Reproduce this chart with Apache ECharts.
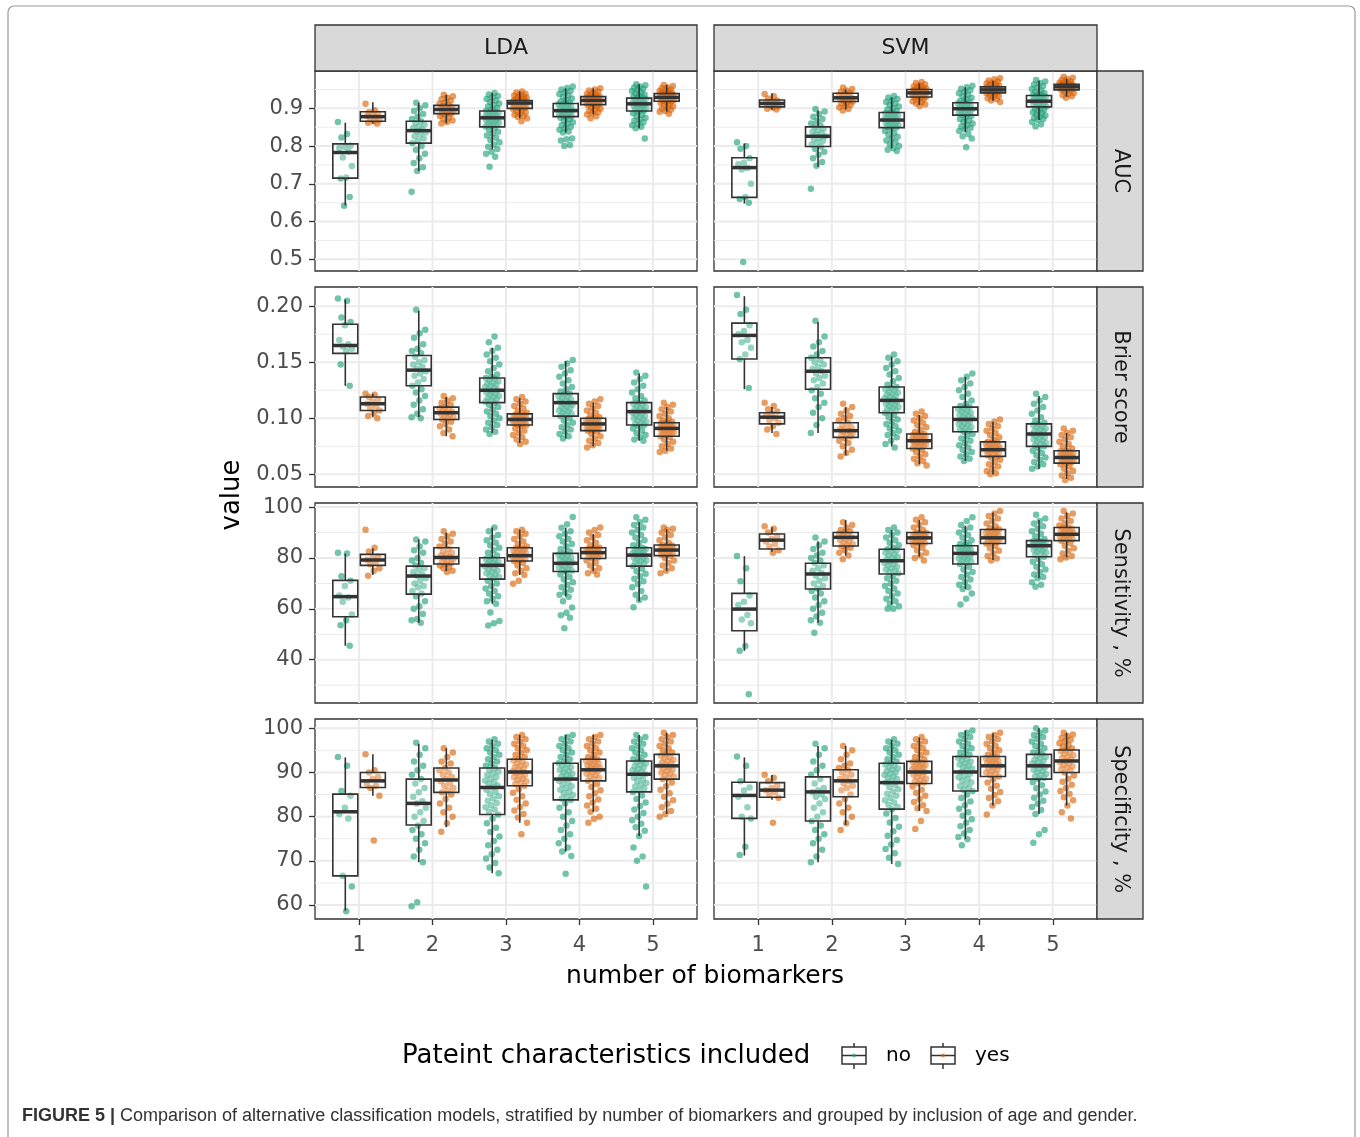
<!DOCTYPE html>
<html>
<head>
<meta charset="utf-8">
<script src="https://cdn.jsdelivr.net/npm/echarts@6/dist/echarts.min.js"></script>
<style>
  html, body { margin: 0; padding: 0; background: #fff; }
  #chart { width: 1360px; height: 1137px; }
</style>
</head>
<body>
<div id="chart"></div>
<script>
// x categories (number of biomarkers) and facet labels
const categories = [1, 2, 3, 4, 5]
const models = ['LDA', 'SVM']
const metrics = ['AUC', 'Brier score', 'Sensitivity , %', 'Specificity , %']

// tick labels per row
const aucTicks = [0.5, 0.6, 0.7, 0.8, 0.9]
const aucMinor = [0.55, 0.65, 0.75, 0.85, 0.95]
const brierTicks = [0.05, 0.10, 0.15, 0.20]
const brierMinor = [0.075, 0.125, 0.175]
const sensTicks = [40, 60, 80, 100]
const sensMinor = [30, 50, 70, 90]
const specTicks = [60, 70, 80, 90, 100]
const specMinor = [65, 75, 85, 95]

// boxes: [min, q1, median, q3, max] for 1..5 biomarkers
// points: one list per number of biomarkers
// ---- LDA / AUC
const ldaAucNoBox = [[0.643, 0.715, 0.783, 0.806, 0.862], [0.734, 0.808, 0.841, 0.866, 0.915], [0.791, 0.851, 0.875, 0.893, 0.941], [0.836, 0.878, 0.894, 0.913, 0.953], [0.847, 0.893, 0.912, 0.927, 0.964]]
const ldaAucYesBox = [[0.860, 0.866, 0.878, 0.891, 0.916], [0.860, 0.886, 0.897, 0.908, 0.936], [0.874, 0.900, 0.914, 0.921, 0.945], [0.884, 0.910, 0.921, 0.931, 0.953], [0.891, 0.919, 0.929, 0.939, 0.962]]
const ldaAucNo = [
  [0.864, 0.832, 0.823, 0.801, 0.798, 0.795, 0.786, 0.770, 0.747, 0.717, 0.714, 0.665, 0.642],
  [0.915, 0.908, 0.900, 0.893, 0.885, 0.878, 0.872, 0.866, 0.861, 0.857, 0.852, 0.848, 0.844, 0.840, 0.836, 0.831, 0.826, 0.820, 0.814, 0.808, 0.800, 0.790, 0.780, 0.768, 0.755, 0.744, 0.734, 0.679],
  [0.941, 0.937, 0.933, 0.929, 0.925, 0.921, 0.917, 0.913, 0.909, 0.905, 0.901, 0.897, 0.893, 0.891, 0.889, 0.887, 0.885, 0.883, 0.881, 0.879, 0.877, 0.875, 0.874, 0.872, 0.870, 0.868, 0.866, 0.864, 0.862, 0.860, 0.858, 0.856, 0.854, 0.852, 0.848, 0.843, 0.838, 0.833, 0.828, 0.822, 0.816, 0.810, 0.804, 0.798, 0.792, 0.785, 0.780, 0.772, 0.745],
  [0.958, 0.954, 0.950, 0.946, 0.942, 0.938, 0.934, 0.930, 0.926, 0.922, 0.918, 0.915, 0.913, 0.911, 0.909, 0.907, 0.905, 0.903, 0.901, 0.899, 0.897, 0.895, 0.894, 0.892, 0.890, 0.888, 0.886, 0.884, 0.882, 0.880, 0.878, 0.875, 0.871, 0.867, 0.863, 0.859, 0.855, 0.851, 0.847, 0.843, 0.839, 0.836, 0.820, 0.818, 0.815, 0.803, 0.800],
  [0.964, 0.961, 0.958, 0.955, 0.952, 0.949, 0.946, 0.943, 0.940, 0.937, 0.934, 0.931, 0.929, 0.927, 0.925, 0.923, 0.921, 0.919, 0.917, 0.915, 0.913, 0.912, 0.910, 0.908, 0.906, 0.904, 0.902, 0.900, 0.898, 0.896, 0.894, 0.891, 0.887, 0.883, 0.879, 0.875, 0.871, 0.867, 0.863, 0.859, 0.855, 0.851, 0.847, 0.820]
]
const ldaAucYes = [
  [0.912, 0.895, 0.890, 0.886, 0.883, 0.880, 0.877, 0.874, 0.870, 0.866, 0.862, 0.860],
  [0.936, 0.932, 0.928, 0.924, 0.920, 0.916, 0.912, 0.909, 0.906, 0.903, 0.900, 0.898, 0.896, 0.894, 0.892, 0.890, 0.888, 0.886, 0.883, 0.880, 0.876, 0.872, 0.868, 0.864, 0.860],
  [0.945, 0.942, 0.939, 0.936, 0.934, 0.932, 0.930, 0.928, 0.926, 0.924, 0.923, 0.921, 0.920, 0.919, 0.918, 0.917, 0.916, 0.915, 0.914, 0.913, 0.912, 0.911, 0.910, 0.909, 0.908, 0.907, 0.906, 0.905, 0.904, 0.903, 0.902, 0.901, 0.900, 0.898, 0.895, 0.892, 0.889, 0.886, 0.883, 0.880, 0.877, 0.874, 0.866],
  [0.953, 0.950, 0.947, 0.944, 0.941, 0.938, 0.936, 0.934, 0.932, 0.931, 0.930, 0.929, 0.928, 0.927, 0.926, 0.925, 0.924, 0.923, 0.922, 0.921, 0.920, 0.919, 0.918, 0.917, 0.916, 0.915, 0.914, 0.913, 0.912, 0.911, 0.910, 0.908, 0.905, 0.902, 0.899, 0.896, 0.893, 0.890, 0.887, 0.884, 0.879, 0.874],
  [0.962, 0.959, 0.956, 0.953, 0.950, 0.948, 0.946, 0.944, 0.942, 0.940, 0.939, 0.938, 0.937, 0.936, 0.935, 0.934, 0.933, 0.932, 0.931, 0.930, 0.929, 0.928, 0.927, 0.926, 0.925, 0.924, 0.923, 0.922, 0.921, 0.920, 0.919, 0.917, 0.914, 0.911, 0.908, 0.905, 0.902, 0.899, 0.896, 0.893, 0.891, 0.886]
]
// ---- SVM / AUC
const svmAucNoBox = [[0.648, 0.664, 0.743, 0.769, 0.807], [0.745, 0.799, 0.826, 0.851, 0.894], [0.794, 0.849, 0.869, 0.889, 0.929], [0.838, 0.882, 0.899, 0.915, 0.956], [0.869, 0.904, 0.919, 0.934, 0.973]]
const svmAucYesBox = [[0.896, 0.904, 0.913, 0.922, 0.940], [0.897, 0.918, 0.928, 0.940, 0.950], [0.909, 0.930, 0.941, 0.950, 0.966], [0.920, 0.941, 0.949, 0.957, 0.973], [0.931, 0.949, 0.957, 0.964, 0.979]]
const svmAucNo = [
  [0.810, 0.800, 0.793, 0.768, 0.756, 0.752, 0.742, 0.738, 0.700, 0.665, 0.660, 0.650, 0.493],
  [0.898, 0.892, 0.885, 0.878, 0.872, 0.866, 0.860, 0.855, 0.850, 0.846, 0.842, 0.838, 0.834, 0.830, 0.826, 0.822, 0.818, 0.814, 0.809, 0.804, 0.799, 0.792, 0.785, 0.777, 0.768, 0.758, 0.748, 0.687],
  [0.933, 0.929, 0.925, 0.921, 0.917, 0.913, 0.909, 0.905, 0.901, 0.897, 0.893, 0.889, 0.887, 0.885, 0.883, 0.881, 0.879, 0.877, 0.875, 0.873, 0.871, 0.869, 0.867, 0.865, 0.863, 0.861, 0.859, 0.857, 0.855, 0.853, 0.851, 0.849, 0.845, 0.840, 0.835, 0.830, 0.825, 0.820, 0.815, 0.810, 0.805, 0.800, 0.794, 0.790, 0.787],
  [0.960, 0.956, 0.952, 0.948, 0.944, 0.940, 0.936, 0.932, 0.928, 0.924, 0.920, 0.917, 0.915, 0.913, 0.911, 0.909, 0.907, 0.905, 0.903, 0.901, 0.899, 0.897, 0.895, 0.893, 0.891, 0.889, 0.887, 0.885, 0.883, 0.880, 0.876, 0.872, 0.868, 0.864, 0.860, 0.856, 0.852, 0.848, 0.844, 0.840, 0.832, 0.826, 0.820, 0.797],
  [0.975, 0.971, 0.967, 0.963, 0.959, 0.955, 0.951, 0.947, 0.944, 0.941, 0.938, 0.936, 0.934, 0.932, 0.930, 0.928, 0.926, 0.924, 0.922, 0.920, 0.919, 0.917, 0.915, 0.913, 0.911, 0.909, 0.907, 0.905, 0.902, 0.899, 0.896, 0.893, 0.890, 0.887, 0.884, 0.881, 0.878, 0.875, 0.872, 0.869, 0.864, 0.858, 0.852]
]
const svmAucYes = [
  [0.938, 0.932, 0.926, 0.921, 0.917, 0.914, 0.911, 0.908, 0.905, 0.902, 0.899, 0.897],
  [0.955, 0.951, 0.947, 0.944, 0.941, 0.938, 0.935, 0.932, 0.930, 0.928, 0.926, 0.924, 0.922, 0.920, 0.918, 0.915, 0.912, 0.909, 0.906, 0.902, 0.898, 0.894],
  [0.970, 0.967, 0.964, 0.961, 0.958, 0.956, 0.954, 0.952, 0.951, 0.950, 0.949, 0.948, 0.947, 0.946, 0.945, 0.944, 0.943, 0.942, 0.941, 0.940, 0.939, 0.938, 0.937, 0.936, 0.935, 0.934, 0.933, 0.932, 0.931, 0.930, 0.928, 0.925, 0.922, 0.919, 0.916, 0.913, 0.910, 0.906],
  [0.980, 0.977, 0.974, 0.971, 0.968, 0.966, 0.964, 0.962, 0.960, 0.958, 0.957, 0.956, 0.955, 0.954, 0.953, 0.952, 0.951, 0.950, 0.949, 0.948, 0.947, 0.946, 0.945, 0.944, 0.943, 0.942, 0.941, 0.939, 0.936, 0.933, 0.930, 0.927, 0.924, 0.921, 0.917],
  [0.984, 0.981, 0.978, 0.975, 0.972, 0.970, 0.968, 0.966, 0.965, 0.964, 0.963, 0.962, 0.961, 0.960, 0.959, 0.958, 0.957, 0.956, 0.955, 0.954, 0.953, 0.952, 0.951, 0.950, 0.949, 0.947, 0.944, 0.941, 0.938, 0.935, 0.932, 0.928]
]
// ---- LDA / Brier score
const ldaBrierNoBox = [[0.129, 0.158, 0.165, 0.184, 0.206], [0.101, 0.129, 0.143, 0.156, 0.196], [0.087, 0.114, 0.125, 0.136, 0.163], [0.082, 0.102, 0.114, 0.122, 0.151], [0.080, 0.094, 0.106, 0.114, 0.140]]
const ldaBrierYesBox = [[0.101, 0.107, 0.113, 0.119, 0.122], [0.084, 0.099, 0.105, 0.110, 0.119], [0.078, 0.094, 0.099, 0.104, 0.118], [0.075, 0.089, 0.095, 0.100, 0.114], [0.071, 0.084, 0.091, 0.096, 0.110]]
const ldaBrierNo = [
  [0.207, 0.205, 0.190, 0.186, 0.183, 0.170, 0.166, 0.164, 0.162, 0.160, 0.148, 0.129],
  [0.197, 0.179, 0.176, 0.172, 0.166, 0.162, 0.160, 0.158, 0.155, 0.152, 0.150, 0.148, 0.146, 0.144, 0.142, 0.140, 0.138, 0.135, 0.132, 0.129, 0.126, 0.123, 0.120, 0.116, 0.112, 0.108, 0.104, 0.101, 0.100],
  [0.173, 0.168, 0.163, 0.160, 0.157, 0.154, 0.151, 0.148, 0.145, 0.142, 0.139, 0.137, 0.136, 0.135, 0.134, 0.133, 0.132, 0.131, 0.130, 0.129, 0.128, 0.127, 0.126, 0.125, 0.124, 0.123, 0.122, 0.121, 0.120, 0.119, 0.118, 0.117, 0.116, 0.115, 0.114, 0.112, 0.110, 0.108, 0.106, 0.104, 0.102, 0.100, 0.098, 0.096, 0.094, 0.092, 0.090, 0.088, 0.086],
  [0.152, 0.149, 0.146, 0.143, 0.140, 0.137, 0.134, 0.131, 0.128, 0.126, 0.124, 0.122, 0.121, 0.120, 0.119, 0.118, 0.117, 0.116, 0.115, 0.114, 0.113, 0.112, 0.111, 0.110, 0.109, 0.108, 0.107, 0.106, 0.105, 0.104, 0.103, 0.102, 0.100, 0.098, 0.096, 0.094, 0.092, 0.090, 0.088, 0.086, 0.084, 0.082],
  [0.141, 0.138, 0.135, 0.132, 0.129, 0.126, 0.123, 0.120, 0.118, 0.116, 0.114, 0.113, 0.112, 0.111, 0.110, 0.109, 0.108, 0.107, 0.106, 0.105, 0.104, 0.103, 0.102, 0.101, 0.100, 0.099, 0.098, 0.097, 0.096, 0.095, 0.094, 0.093, 0.091, 0.089, 0.087, 0.085, 0.083, 0.081, 0.080]
]
const ldaBrierYes = [
  [0.122, 0.121, 0.119, 0.117, 0.115, 0.113, 0.111, 0.109, 0.107, 0.105, 0.102, 0.100],
  [0.120, 0.118, 0.116, 0.114, 0.112, 0.110, 0.109, 0.108, 0.107, 0.106, 0.105, 0.104, 0.103, 0.102, 0.101, 0.100, 0.099, 0.097, 0.095, 0.093, 0.090, 0.087, 0.084],
  [0.119, 0.117, 0.115, 0.113, 0.111, 0.109, 0.107, 0.105, 0.104, 0.1035, 0.103, 0.1025, 0.102, 0.1015, 0.101, 0.1005, 0.100, 0.0995, 0.099, 0.0985, 0.098, 0.0975, 0.097, 0.0965, 0.096, 0.0955, 0.095, 0.0945, 0.094, 0.093, 0.091, 0.089, 0.087, 0.085, 0.083, 0.081, 0.079, 0.077],
  [0.117, 0.115, 0.113, 0.111, 0.109, 0.107, 0.105, 0.103, 0.101, 0.100, 0.0995, 0.099, 0.0985, 0.098, 0.0975, 0.097, 0.0965, 0.096, 0.0955, 0.095, 0.0945, 0.094, 0.0935, 0.093, 0.0925, 0.092, 0.0915, 0.091, 0.0905, 0.090, 0.0895, 0.089, 0.088, 0.086, 0.084, 0.082, 0.080, 0.078, 0.076, 0.074],
  [0.114, 0.112, 0.110, 0.108, 0.106, 0.104, 0.102, 0.100, 0.098, 0.097, 0.096, 0.0955, 0.095, 0.0945, 0.094, 0.0935, 0.093, 0.0925, 0.092, 0.0915, 0.091, 0.0905, 0.090, 0.0895, 0.089, 0.0885, 0.088, 0.0875, 0.087, 0.0865, 0.086, 0.085, 0.084, 0.083, 0.081, 0.079, 0.077, 0.075, 0.073, 0.071, 0.070]
]
// ---- SVM / Brier score
const svmBrierNoBox = [[0.126, 0.153, 0.174, 0.185, 0.209], [0.087, 0.126, 0.142, 0.154, 0.186], [0.075, 0.105, 0.116, 0.128, 0.155], [0.062, 0.088, 0.099, 0.110, 0.137], [0.055, 0.075, 0.086, 0.095, 0.120]]
const svmBrierYesBox = [[0.087, 0.095, 0.101, 0.105, 0.110], [0.067, 0.083, 0.089, 0.096, 0.110], [0.059, 0.073, 0.080, 0.086, 0.103], [0.050, 0.066, 0.072, 0.079, 0.097], [0.046, 0.060, 0.065, 0.071, 0.087]]
const svmBrierNo = [
  [0.210, 0.197, 0.193, 0.183, 0.178, 0.175, 0.170, 0.168, 0.163, 0.157, 0.153, 0.127],
  [0.187, 0.173, 0.168, 0.164, 0.160, 0.157, 0.154, 0.152, 0.150, 0.148, 0.146, 0.144, 0.142, 0.140, 0.138, 0.136, 0.134, 0.131, 0.128, 0.125, 0.122, 0.118, 0.114, 0.110, 0.105, 0.100, 0.094, 0.087],
  [0.157, 0.154, 0.151, 0.148, 0.145, 0.142, 0.139, 0.136, 0.133, 0.130, 0.128, 0.127, 0.126, 0.125, 0.124, 0.123, 0.122, 0.121, 0.120, 0.119, 0.118, 0.117, 0.116, 0.115, 0.114, 0.113, 0.112, 0.111, 0.110, 0.109, 0.108, 0.107, 0.106, 0.105, 0.103, 0.101, 0.099, 0.097, 0.095, 0.093, 0.091, 0.089, 0.087, 0.085, 0.083, 0.080, 0.077, 0.074],
  [0.140, 0.137, 0.134, 0.131, 0.128, 0.125, 0.122, 0.119, 0.116, 0.113, 0.111, 0.110, 0.109, 0.108, 0.107, 0.106, 0.105, 0.104, 0.103, 0.102, 0.101, 0.100, 0.099, 0.098, 0.097, 0.096, 0.095, 0.094, 0.093, 0.092, 0.091, 0.090, 0.089, 0.088, 0.086, 0.084, 0.082, 0.080, 0.078, 0.076, 0.074, 0.072, 0.070, 0.068, 0.066, 0.064, 0.062],
  [0.122, 0.119, 0.116, 0.113, 0.110, 0.107, 0.104, 0.101, 0.098, 0.096, 0.095, 0.094, 0.093, 0.092, 0.091, 0.090, 0.089, 0.088, 0.087, 0.086, 0.085, 0.084, 0.083, 0.082, 0.081, 0.080, 0.079, 0.078, 0.077, 0.076, 0.075, 0.073, 0.071, 0.069, 0.067, 0.065, 0.063, 0.061, 0.059, 0.057, 0.055]
]
const svmBrierYes = [
  [0.114, 0.111, 0.108, 0.106, 0.104, 0.102, 0.100, 0.098, 0.096, 0.093, 0.090, 0.086],
  [0.113, 0.110, 0.107, 0.104, 0.102, 0.100, 0.098, 0.096, 0.094, 0.092, 0.091, 0.090, 0.089, 0.088, 0.087, 0.086, 0.085, 0.084, 0.082, 0.080, 0.078, 0.075, 0.072, 0.069, 0.066],
  [0.106, 0.104, 0.102, 0.100, 0.098, 0.096, 0.094, 0.092, 0.090, 0.088, 0.086, 0.0855, 0.085, 0.0845, 0.084, 0.0835, 0.083, 0.0825, 0.082, 0.0815, 0.081, 0.0805, 0.080, 0.0795, 0.079, 0.0785, 0.078, 0.0775, 0.077, 0.0765, 0.076, 0.075, 0.074, 0.073, 0.072, 0.070, 0.068, 0.066, 0.064, 0.062, 0.060, 0.058],
  [0.099, 0.097, 0.095, 0.093, 0.091, 0.089, 0.087, 0.085, 0.083, 0.081, 0.079, 0.0785, 0.078, 0.0775, 0.077, 0.0765, 0.076, 0.0755, 0.075, 0.0745, 0.074, 0.0735, 0.073, 0.0725, 0.072, 0.0715, 0.071, 0.0705, 0.070, 0.069, 0.068, 0.067, 0.066, 0.065, 0.063, 0.061, 0.059, 0.057, 0.055, 0.053, 0.051, 0.050],
  [0.091, 0.089, 0.087, 0.085, 0.083, 0.081, 0.079, 0.077, 0.075, 0.073, 0.071, 0.0705, 0.070, 0.0695, 0.069, 0.0685, 0.068, 0.0675, 0.067, 0.0665, 0.066, 0.0655, 0.065, 0.0645, 0.064, 0.0635, 0.063, 0.0625, 0.062, 0.0615, 0.061, 0.060, 0.059, 0.057, 0.055, 0.053, 0.051, 0.049, 0.047, 0.045]
]
// ---- LDA / Sensitivity
const ldaSensNoBox = [[45.5, 56.9, 64.8, 71.2, 81.7], [54.5, 65.8, 72.9, 76.8, 87.3], [62.0, 71.7, 77.1, 80.1, 92.0], [64.8, 74.7, 77.9, 81.8, 91.9], [63.0, 76.8, 81.1, 84.0, 94.0]]
const ldaSensYesBox = [[73.3, 77.1, 79.2, 81.4, 83.8], [74.8, 77.6, 80.2, 84.0, 89.9], [73.3, 78.8, 80.9, 84.0, 91.1], [74.8, 79.8, 82.1, 84.0, 89.5], [74.8, 80.9, 83.1, 85.1, 91.2]]
const ldaSensNo = [
  [82.0, 81.8, 72.8, 71.0, 69.0, 65.2, 64.5, 62.8, 57.8, 55.5, 53.6, 45.5],
  [87.3, 86.5, 84.5, 83.0, 82.0, 80.0, 79.0, 78.0, 77.0, 76.0, 75.5, 74.5, 73.5, 73.0, 72.0, 71.0, 70.0, 69.0, 68.5, 67.0, 66.0, 65.0, 63.0, 61.0, 60.0, 58.0, 56.0, 55.5, 54.5],
  [92.0, 90.5, 89.0, 88.0, 87.0, 86.0, 85.0, 84.0, 83.0, 82.0, 81.0, 80.1, 79.7, 79.3, 78.9, 78.5, 78.1, 77.7, 77.3, 77.0, 76.5, 76.0, 75.5, 75.0, 74.5, 74.0, 73.5, 73.0, 72.5, 72.0, 71.0, 70.0, 69.0, 68.0, 67.0, 66.0, 65.0, 64.0, 63.0, 62.0, 58.6, 55.2, 54.3, 53.5],
  [96.1, 93.2, 91.9, 90.5, 89.5, 88.5, 87.5, 86.5, 85.5, 84.5, 83.5, 82.5, 81.8, 81.4, 81.0, 80.6, 80.2, 79.8, 79.4, 79.0, 78.6, 78.2, 77.9, 77.5, 77.1, 76.7, 76.3, 75.9, 75.5, 75.1, 74.7, 73.5, 72.5, 71.5, 70.5, 69.5, 68.5, 67.5, 66.5, 65.5, 64.8, 63.0, 60.5, 58.5, 57.5, 56.5, 52.4],
  [96.0, 95.0, 94.0, 93.0, 92.0, 91.0, 90.0, 89.0, 88.0, 87.0, 86.0, 85.0, 84.0, 83.7, 83.4, 83.1, 82.8, 82.5, 82.2, 81.9, 81.6, 81.3, 81.0, 80.6, 80.2, 79.8, 79.4, 79.0, 78.6, 78.2, 77.8, 77.4, 76.8, 75.8, 74.8, 73.8, 72.8, 71.8, 70.8, 69.8, 68.5, 67.0, 65.5, 64.5, 63.5, 60.6]
]
const ldaSensYes = [
  [91.1, 84.0, 82.5, 80.5, 79.8, 79.2, 78.5, 77.5, 76.0, 75.0, 73.0],
  [90.5, 89.5, 88.5, 87.5, 86.5, 85.5, 84.5, 83.5, 82.5, 82.0, 81.5, 81.0, 80.5, 80.0, 79.5, 79.0, 78.5, 78.0, 77.5, 77.0, 76.5, 76.0, 75.0, 74.5],
  [91.1, 90.5, 89.5, 88.5, 87.5, 86.5, 85.5, 84.5, 84.0, 83.7, 83.4, 83.1, 82.8, 82.5, 82.2, 81.9, 81.6, 81.3, 81.0, 80.7, 80.4, 80.1, 79.8, 79.5, 79.2, 78.8, 78.0, 77.0, 76.0, 75.0, 74.0, 73.3, 71.0, 69.9],
  [92.0, 91.0, 90.0, 89.0, 88.0, 87.0, 86.0, 85.0, 84.0, 83.8, 83.6, 83.4, 83.2, 83.0, 82.8, 82.6, 82.4, 82.2, 82.0, 81.7, 81.4, 81.1, 80.8, 80.5, 80.2, 79.8, 79.0, 78.0, 77.0, 76.0, 75.0, 74.0, 73.5],
  [92.0, 91.5, 91.0, 90.0, 89.0, 88.0, 87.0, 86.0, 85.1, 84.9, 84.7, 84.5, 84.3, 84.1, 83.9, 83.7, 83.5, 83.3, 83.1, 82.8, 82.5, 82.2, 81.9, 81.6, 81.3, 80.9, 80.0, 79.0, 78.0, 77.0, 76.0, 75.0, 74.0]
]
// ---- SVM / Sensitivity
const svmSensNoBox = [[43.5, 51.4, 59.9, 66.1, 80.7], [54.5, 67.8, 73.7, 77.9, 86.6], [61.7, 73.7, 78.9, 83.4, 91.0], [67.8, 77.6, 81.8, 84.8, 92.7], [72.0, 80.5, 84.8, 86.8, 94.9]]
const svmSensYesBox = [[82.4, 83.5, 87.0, 89.4, 92.1], [80.9, 84.7, 88.1, 90.0, 94.9], [80.5, 85.7, 87.9, 90.0, 94.9], [79.2, 85.7, 87.9, 91.2, 97.9], [80.2, 86.8, 89.3, 92.0, 97.9]]
const svmSensNo = [
  [80.8, 76.0, 70.8, 65.2, 62.8, 61.5, 57.6, 55.8, 54.3, 45.4, 43.5, 26.4],
  [88.0, 86.5, 85.0, 83.5, 82.0, 81.0, 80.0, 79.0, 78.0, 77.0, 76.0, 75.0, 74.0, 73.0, 72.0, 71.0, 70.0, 69.0, 68.0, 67.0, 66.0, 64.5, 63.0, 61.5, 60.0, 58.5, 57.0, 55.5, 54.5, 50.6],
  [92.0, 91.0, 90.0, 89.0, 88.0, 87.0, 86.0, 85.0, 84.0, 83.4, 83.0, 82.5, 82.0, 81.5, 81.0, 80.5, 80.0, 79.5, 79.0, 78.5, 78.0, 77.5, 77.0, 76.5, 76.0, 75.5, 75.0, 74.5, 74.0, 73.0, 72.0, 71.0, 70.0, 69.0, 68.0, 67.0, 66.0, 65.0, 64.0, 63.0, 62.0, 61.0, 60.0, 60.0],
  [96.0, 94.5, 93.0, 92.0, 91.0, 90.0, 89.0, 88.0, 87.0, 86.0, 85.5, 84.8, 84.5, 84.2, 83.9, 83.6, 83.3, 83.0, 82.7, 82.4, 82.1, 81.8, 81.4, 81.0, 80.6, 80.2, 79.8, 79.4, 79.0, 78.6, 78.2, 77.6, 76.5, 75.5, 74.5, 73.5, 72.5, 71.5, 70.5, 69.5, 68.5, 67.8, 66.0, 64.0, 61.7],
  [97.0, 95.5, 94.5, 93.5, 92.5, 91.5, 90.5, 89.5, 88.5, 87.5, 86.8, 86.6, 86.4, 86.2, 86.0, 85.8, 85.6, 85.4, 85.2, 85.0, 84.8, 84.4, 84.0, 83.6, 83.2, 82.8, 82.4, 82.0, 81.6, 81.2, 80.5, 79.5, 78.5, 77.5, 76.5, 75.5, 74.5, 73.5, 72.5, 72.0, 70.5, 69.5, 68.7]
]
const svmSensYes = [
  [92.5, 91.5, 90.0, 88.5, 87.5, 86.5, 85.5, 84.5, 83.0, 82.0],
  [94.0, 93.0, 92.0, 91.0, 90.5, 90.0, 89.5, 89.0, 88.5, 88.0, 87.5, 87.0, 86.5, 86.0, 85.5, 85.0, 84.5, 84.0, 83.0, 82.0, 81.0, 79.5],
  [96.0, 95.0, 94.0, 93.0, 92.0, 91.0, 90.0, 89.8, 89.6, 89.4, 89.2, 89.0, 88.8, 88.6, 88.4, 88.2, 88.0, 87.8, 87.5, 87.2, 86.9, 86.6, 86.3, 86.0, 85.7, 85.0, 84.0, 83.0, 82.0, 81.0, 80.0, 79.0],
  [98.5, 97.5, 96.5, 95.5, 94.5, 93.5, 92.5, 91.8, 91.2, 90.9, 90.6, 90.3, 90.0, 89.7, 89.4, 89.1, 88.8, 88.5, 88.2, 87.9, 87.6, 87.3, 87.0, 86.7, 86.4, 86.0, 85.7, 84.8, 83.8, 82.8, 81.8, 80.8, 79.8, 79.0],
  [98.5, 97.5, 96.5, 95.5, 94.5, 93.5, 92.8, 92.0, 91.7, 91.4, 91.1, 90.8, 90.5, 90.2, 89.9, 89.6, 89.3, 89.0, 88.7, 88.4, 88.1, 87.8, 87.5, 87.2, 86.8, 85.8, 84.8, 83.8, 82.8, 81.8, 80.8, 80.2, 79.5]
]
// ---- LDA / Specificity
const ldaSpecNoBox = [[58.7, 66.6, 81.1, 85.1, 93.4], [69.7, 78.1, 83.0, 88.5, 96.5], [67.2, 80.5, 86.6, 91.0, 97.4], [72.1, 83.8, 88.5, 92.1, 98.5], [75.6, 85.6, 89.6, 92.6, 98.5]]
const ldaSpecYesBox = [[84.7, 86.6, 88.1, 90.0, 94.1], [77.6, 85.5, 88.3, 91.0, 95.5], [78.6, 87.0, 90.1, 93.0, 98.5], [81.1, 88.1, 90.6, 93.0, 98.5], [80.6, 88.5, 91.5, 94.1, 99.0]]
const ldaSpecNo = [
  [93.5, 91.5, 85.8, 84.7, 82.0, 80.6, 79.6, 66.6, 64.2, 58.6],
  [96.7, 95.5, 94.0, 92.5, 91.5, 90.5, 89.5, 88.5, 87.5, 86.5, 85.5, 84.5, 83.5, 83.0, 82.0, 81.0, 80.0, 79.0, 78.0, 77.0, 76.0, 75.0, 74.0, 72.5, 71.0, 69.7, 60.6, 59.7],
  [97.5, 97.0, 96.5, 96.0, 95.5, 95.0, 94.5, 94.0, 93.5, 93.0, 92.5, 92.0, 91.5, 91.0, 90.6, 90.2, 89.8, 89.4, 89.0, 88.6, 88.2, 87.8, 87.4, 87.0, 86.6, 86.1, 85.6, 85.1, 84.6, 84.1, 83.6, 83.1, 82.6, 82.1, 81.6, 81.1, 80.5, 79.5, 78.5, 77.5, 76.5, 75.5, 74.5, 73.5, 72.5, 71.5, 70.5, 69.5, 68.5, 67.2],
  [98.5, 98.0, 97.5, 97.0, 96.5, 96.0, 95.5, 95.0, 94.5, 94.0, 93.5, 93.0, 92.5, 92.1, 91.8, 91.5, 91.2, 90.9, 90.6, 90.3, 90.0, 89.7, 89.4, 89.1, 88.8, 88.5, 88.1, 87.7, 87.3, 86.9, 86.5, 86.1, 85.7, 85.3, 84.9, 84.5, 84.1, 83.8, 83.0, 82.0, 81.0, 80.0, 79.0, 78.0, 77.0, 76.0, 75.0, 74.0, 73.0, 72.1, 71.1, 67.1],
  [98.5, 98.0, 97.5, 97.0, 96.5, 96.0, 95.5, 95.0, 94.5, 94.0, 93.5, 93.0, 92.6, 92.3, 92.0, 91.7, 91.4, 91.1, 90.8, 90.5, 90.2, 89.9, 89.6, 89.2, 88.8, 88.4, 88.0, 87.6, 87.2, 86.8, 86.4, 86.0, 85.6, 84.8, 84.0, 83.2, 82.4, 81.6, 80.8, 80.0, 79.2, 78.4, 77.6, 76.8, 75.6, 73.0, 71.0, 70.0, 64.2]
]
const ldaSpecYes = [
  [94.1, 90.5, 90.0, 89.0, 88.5, 87.5, 87.0, 86.5, 84.7, 74.6],
  [95.5, 94.5, 93.5, 92.5, 92.0, 91.0, 90.5, 90.0, 89.5, 89.0, 88.5, 88.0, 87.5, 87.0, 86.5, 86.0, 85.5, 85.0, 84.0, 83.0, 82.0, 81.0, 80.0, 78.5, 76.6],
  [98.5, 98.0, 97.5, 97.0, 96.5, 96.0, 95.5, 95.0, 94.5, 94.0, 93.5, 93.0, 92.7, 92.4, 92.1, 91.8, 91.5, 91.2, 90.9, 90.6, 90.3, 90.1, 89.8, 89.5, 89.2, 88.9, 88.6, 88.3, 88.0, 87.7, 87.4, 87.0, 86.2, 85.4, 84.6, 83.8, 83.0, 82.2, 81.4, 80.6, 79.8, 78.6, 76.0],
  [98.5, 98.0, 97.5, 97.0, 96.5, 96.0, 95.5, 95.0, 94.5, 94.0, 93.5, 93.0, 92.8, 92.6, 92.4, 92.2, 92.0, 91.8, 91.6, 91.4, 91.2, 91.0, 90.8, 90.6, 90.3, 90.0, 89.7, 89.4, 89.1, 88.8, 88.5, 88.1, 87.4, 86.7, 86.0, 85.3, 84.6, 83.9, 83.2, 82.5, 81.8, 81.1, 80.0, 79.5, 78.6],
  [99.0, 98.5, 98.0, 97.5, 97.0, 96.5, 96.0, 95.5, 95.0, 94.5, 94.1, 93.8, 93.5, 93.2, 92.9, 92.6, 92.3, 92.0, 91.7, 91.5, 91.2, 90.9, 90.6, 90.3, 90.0, 89.7, 89.4, 89.1, 88.8, 88.5, 87.7, 86.9, 86.1, 85.3, 84.5, 83.7, 82.9, 82.1, 81.3, 80.6, 80.0]
]
// ---- SVM / Specificity
const svmSpecNoBox = [[71.2, 79.6, 84.8, 87.8, 93.4], [69.7, 79.0, 85.6, 89.0, 96.0], [69.3, 81.7, 87.7, 92.1, 97.4], [74.9, 85.8, 90.1, 93.6, 99.5], [80.6, 88.5, 91.5, 94.1, 100.0]]
const svmSpecYesBox = [[83.8, 84.4, 86.0, 87.7, 89.4], [78.1, 84.5, 88.1, 90.6, 96.0], [81.3, 87.5, 90.1, 92.5, 97.9], [82.5, 89.1, 91.5, 93.6, 98.9], [82.5, 90.0, 92.6, 95.1, 99.0]]
const svmSpecNo = [
  [93.6, 91.5, 88.0, 86.6, 85.9, 84.5, 82.1, 80.0, 79.6, 73.2, 71.3],
  [96.5, 95.5, 94.0, 92.5, 91.5, 90.5, 89.5, 88.5, 87.5, 86.5, 86.0, 85.5, 85.0, 84.5, 84.0, 83.0, 82.0, 81.0, 80.0, 79.0, 78.0, 77.0, 76.0, 75.0, 74.0, 72.5, 71.0, 69.7],
  [97.5, 97.0, 96.5, 96.0, 95.5, 95.0, 94.5, 94.0, 93.5, 93.0, 92.5, 92.1, 91.8, 91.5, 91.2, 90.9, 90.6, 90.3, 90.0, 89.7, 89.4, 89.1, 88.8, 88.5, 88.1, 87.7, 87.2, 86.7, 86.2, 85.7, 85.2, 84.7, 84.2, 83.7, 83.2, 82.7, 82.2, 81.7, 80.7, 79.7, 78.7, 77.7, 76.7, 75.7, 74.7, 73.7, 72.7, 71.7, 70.7, 69.3],
  [99.5, 99.0, 98.5, 98.0, 97.5, 97.0, 96.5, 96.0, 95.5, 95.0, 94.5, 94.0, 93.6, 93.3, 93.0, 92.7, 92.4, 92.1, 91.8, 91.5, 91.2, 90.9, 90.6, 90.1, 89.7, 89.3, 88.9, 88.5, 88.1, 87.7, 87.3, 86.9, 86.5, 86.1, 85.8, 85.0, 84.2, 83.4, 82.6, 81.8, 81.0, 80.2, 79.4, 78.6, 77.8, 77.0, 76.2, 75.4, 74.9, 73.5],
  [100.0, 99.5, 99.0, 98.5, 98.0, 97.5, 97.0, 96.5, 96.0, 95.5, 95.0, 94.5, 94.1, 93.8, 93.5, 93.2, 92.9, 92.6, 92.3, 92.0, 91.7, 91.5, 91.2, 90.9, 90.6, 90.3, 90.0, 89.7, 89.4, 89.1, 88.8, 88.5, 87.8, 87.1, 86.4, 85.7, 85.0, 84.3, 83.6, 82.9, 82.2, 81.5, 80.6, 77.0, 76.0, 74.1]
]
const svmSpecYes = [
  [89.5, 88.8, 88.0, 87.0, 86.5, 86.0, 85.5, 85.0, 84.3, 78.6],
  [96.0, 95.0, 94.0, 93.0, 92.0, 91.5, 91.0, 90.5, 90.0, 89.5, 89.0, 88.5, 88.0, 87.5, 87.0, 86.5, 86.0, 85.0, 84.0, 83.0, 82.0, 81.0, 80.0, 78.5, 77.0],
  [98.0, 97.5, 97.0, 96.5, 96.0, 95.5, 95.0, 94.5, 94.0, 93.5, 93.0, 92.5, 92.3, 92.1, 91.9, 91.7, 91.5, 91.3, 91.1, 90.9, 90.7, 90.5, 90.3, 90.1, 89.8, 89.5, 89.2, 88.9, 88.6, 88.3, 88.0, 87.7, 87.5, 86.8, 86.1, 85.4, 84.7, 84.0, 83.3, 82.6, 81.9, 81.3, 79.0, 77.2],
  [99.0, 98.5, 98.0, 97.5, 97.0, 96.5, 96.0, 95.5, 95.0, 94.5, 94.0, 93.6, 93.4, 93.2, 93.0, 92.8, 92.6, 92.4, 92.2, 92.0, 91.8, 91.5, 91.2, 90.9, 90.6, 90.3, 90.0, 89.7, 89.4, 89.1, 88.4, 87.7, 87.0, 86.3, 85.6, 84.9, 84.2, 83.5, 82.5, 80.5],
  [99.0, 98.6, 98.2, 97.8, 97.4, 97.0, 96.6, 96.2, 95.8, 95.4, 95.1, 94.8, 94.5, 94.2, 93.9, 93.6, 93.3, 93.0, 92.6, 92.3, 92.0, 91.7, 91.4, 91.1, 90.8, 90.5, 90.0, 89.3, 88.6, 87.9, 87.2, 86.5, 85.8, 85.1, 84.4, 83.7, 82.5, 81.0, 79.6]
]

// panels: row by metric, column by model
const panels = [
  [ldaAucNo, ldaAucYes, ldaAucNoBox, ldaAucYesBox], [svmAucNo, svmAucYes, svmAucNoBox, svmAucYesBox],
  [ldaBrierNo, ldaBrierYes, ldaBrierNoBox, ldaBrierYesBox], [svmBrierNo, svmBrierYes, svmBrierNoBox, svmBrierYesBox],
  [ldaSensNo, ldaSensYes, ldaSensNoBox, ldaSensYesBox], [svmSensNo, svmSensYes, svmSensNoBox, svmSensYesBox],
  [ldaSpecNo, ldaSpecYes, ldaSpecNoBox, ldaSpecYesBox], [svmSpecNo, svmSpecYes, svmSpecNoBox, svmSpecYesBox]
]
const rows = [
  { min: 0.469, max: 0.999, ticks: aucTicks, minor: aucMinor, digits: 1 },
  { min: 0.0387, max: 0.2172, ticks: brierTicks, minor: brierMinor, digits: 2 },
  { min: 23.0, max: 101.6, ticks: sensTicks, minor: sensMinor, digits: 0 },
  { min: 56.83, max: 102.1, ticks: specTicks, minor: specMinor, digits: 0 }
]

const GREEN = '#1b9e77'
const ORANGE = '#d95f02'
const FONT = 'DejaVu Sans'
const colLeft = [315, 714]
const colWidth = [382, 383]
const rowTop = [71, 287, 503, 719]
const panelH = 200
const dodge = 0.1875
const boxHalf = 0.17

// fixed spread of points around the box centre (golden-ratio sequence)
const jit = i => (((i * 0.618034) % 1) - 0.5) * 0.2

const chart = echarts.init(document.getElementById('chart'))

const grids = [], xAxes = [], yAxes = [], series = []

panels.forEach((panel, p) => {
  const r = Math.floor(p / 2), c = p % 2
  const row = rows[r]
  const [noPts, yesPts, noBox, yesBox] = panel
  grids.push({
    left: colLeft[c], top: rowTop[r], width: colWidth[c], height: panelH,
    show: true, backgroundColor: '#fff', borderColor: '#333', borderWidth: 1.3
  })
  const bottom = r === 3
  xAxes.push({
    gridIndex: p, type: 'value', min: 0.4, max: 5.6,
    axisLine: { show: false }, splitLine: { show: false },
    axisTick: { show: bottom, customValues: categories, length: 6, lineStyle: { color: '#333', width: 1.3 } },
    axisLabel: { show: bottom, customValues: categories, formatter: v => String(v), fontSize: 21, fontFamily: FONT, color: '#4d4d4d', margin: 16 }
  })
  const left = c === 0
  yAxes.push({
    gridIndex: p, type: 'value', min: row.min, max: row.max,
    axisLine: { show: false }, splitLine: { show: false },
    axisTick: { show: left, customValues: row.ticks, length: 6, lineStyle: { color: '#333', width: 1.3 } },
    axisLabel: { show: left, customValues: row.ticks, formatter: v => v.toFixed(row.digits), fontSize: 21, fontFamily: FONT, color: '#4d4d4d', margin: 12 }
  })

  // grid lines: [kind, value] kind 0 = major h, 1 = minor h, 2 = vertical
  const lines = []
  row.minor.forEach(v => lines.push([1, v]))
  row.ticks.forEach(v => lines.push([0, v]))
  categories.forEach(v => lines.push([2, v]))
  series.push({
    type: 'custom', xAxisIndex: p, yAxisIndex: p, z: 1, silent: true,
    data: lines,
    renderItem: (params, api) => {
      const kind = api.value(0), v = api.value(1)
      const a = kind === 2 ? api.coord([v, row.max]) : api.coord([0.4, v])
      const b = kind === 2 ? api.coord([v, row.min]) : api.coord([5.6, v])
      return {
        type: 'line',
        shape: { x1: a[0], y1: a[1], x2: b[0], y2: b[1] },
        style: { stroke: '#ebebeb', lineWidth: kind === 1 ? 1 : 2 }
      }
    }
  })

  // jittered points
  const pts = (groups, side) => {
    const out = []
    groups.forEach((vals, g) => {
      vals.forEach((v, i) => out.push([categories[g] + side * dodge + jit(i + g * 7), v]))
    })
    return out
  }
  series.push({
    type: 'scatter', xAxisIndex: p, yAxisIndex: p, z: 2, silent: true,
    symbolSize: 6.5, itemStyle: { color: GREEN, opacity: 0.62 },
    data: pts(noPts, -1)
  })
  series.push({
    type: 'scatter', xAxisIndex: p, yAxisIndex: p, z: 2, silent: true,
    symbolSize: 6.5, itemStyle: { color: ORANGE, opacity: 0.62 },
    data: pts(yesPts, 1)
  })

  // boxes
  const boxes = []
  categories.forEach((cat, g) => {
    boxes.push([cat - dodge].concat(noBox[g]))
    boxes.push([cat + dodge].concat(yesBox[g]))
  })
  series.push({
    type: 'custom', xAxisIndex: p, yAxisIndex: p, z: 3, silent: true,
    data: boxes,
    encode: { x: 0, y: [1, 2, 3, 4, 5] },
    renderItem: (params, api) => {
      const cx = api.value(0)
      const xl = api.coord([cx - boxHalf, api.value(3)])[0]
      const xr = api.coord([cx + boxHalf, api.value(3)])[0]
      const xm = api.coord([cx, api.value(3)])[0]
      const y = k => api.coord([cx, api.value(k)])[1]
      const yMin = y(1), yQ1 = y(2), yMed = y(3), yQ3 = y(4), yMax = y(5)
      const stroke = '#333'
      return {
        type: 'group',
        children: [
          { type: 'line', shape: { x1: xm, y1: yMax, x2: xm, y2: yQ3 }, style: { stroke, lineWidth: 1.6 } },
          { type: 'line', shape: { x1: xm, y1: yQ1, x2: xm, y2: yMin }, style: { stroke, lineWidth: 1.6 } },
          { type: 'rect', shape: { x: xl, y: yQ3, width: xr - xl, height: yQ1 - yQ3 }, style: { fill: 'rgba(255,255,255,0.25)', stroke, lineWidth: 1.6 } },
          { type: 'line', shape: { x1: xl, y1: yMed, x2: xr, y2: yMed }, style: { stroke, lineWidth: 3.5 } }
        ]
      }
    }
  })
})

// facet strips, axis titles, legend, caption
const graphic = []
models.forEach((m, c) => {
  graphic.push({ type: 'rect', shape: { x: colLeft[c], y: 25, width: colWidth[c], height: 46 }, style: { fill: '#d9d9d9', stroke: '#333', lineWidth: 1.3 }, z: 10 })
  graphic.push({ type: 'text', x: colLeft[c] + colWidth[c] / 2, y: 48, style: { text: m, font: '22px "DejaVu Sans"', fill: '#1a1a1a', align: 'center', verticalAlign: 'middle' }, z: 11 })
})
metrics.forEach((m, r) => {
  graphic.push({ type: 'rect', shape: { x: 1097, y: rowTop[r], width: 46, height: panelH }, style: { fill: '#d9d9d9', stroke: '#333', lineWidth: 1.3 }, z: 10 })
  graphic.push({ type: 'text', x: 1120, y: rowTop[r] + panelH / 2, rotation: -Math.PI / 2, style: { text: m, font: '21px "DejaVu Sans"', fill: '#1a1a1a', align: 'center', verticalAlign: 'middle' }, z: 11 })
})
graphic.push({ type: 'text', x: 232, y: 495, rotation: Math.PI / 2, style: { text: 'value', font: '26px "DejaVu Sans"', fill: '#000', align: 'center', verticalAlign: 'middle' } })
graphic.push({ type: 'text', x: 705, y: 976, style: { text: 'number of biomarkers', font: '25px "DejaVu Sans"', fill: '#000', align: 'center', verticalAlign: 'middle' } })

// legend
graphic.push({ type: 'text', x: 402, y: 1056, style: { text: 'Pateint characteristics included', font: '26px "DejaVu Sans"', fill: '#000', align: 'left', verticalAlign: 'middle' } })
const legendKey = (x, color, label) => {
  graphic.push({ type: 'line', shape: { x1: x + 12, y1: 1043, x2: x + 12, y2: 1069 }, style: { stroke: '#333', lineWidth: 1.5 } })
  graphic.push({ type: 'rect', shape: { x: x, y: 1047, width: 24, height: 17 }, style: { fill: '#fff', stroke: '#333', lineWidth: 1.5 } })
  graphic.push({ type: 'line', shape: { x1: x, y1: 1055.5, x2: x + 24, y2: 1055.5 }, style: { stroke: '#333', lineWidth: 1.5 } })
  graphic.push({ type: 'circle', shape: { cx: x + 12, cy: 1055.5, r: 2 }, style: { fill: color, opacity: 0.6 } })
  graphic.push({ type: 'text', x: x + 44, y: 1056, style: { text: label, font: '20px "DejaVu Sans"', fill: '#000', align: 'left', verticalAlign: 'middle' } })
}
legendKey(842, GREEN, 'no')
legendKey(931, ORANGE, 'yes')

// caption and frame
graphic.push({
  type: 'text', x: 22, y: 1116,
  style: {
    text: '{b|FIGURE 5 |} Comparison of alternative classification models, stratified by number of biomarkers and grouped by inclusion of age and gender.',
    font: '18px "Liberation Sans"', fill: '#333', align: 'left', verticalAlign: 'middle',
    rich: { b: { fontWeight: 'bold', fontSize: 18, fontFamily: 'Liberation Sans', fill: '#333' } }
  }
})
graphic.push({ type: 'rect', shape: { x: 8, y: 6, width: 1347, height: 1170, r: 6 }, style: { fill: 'none', stroke: '#999', lineWidth: 1.2 } })

chart.setOption({
  animation: false,
  backgroundColor: '#fff',
  grid: grids,
  xAxis: xAxes,
  yAxis: yAxes,
  series: series,
  graphic: graphic
})
</script>
</body>
</html>
